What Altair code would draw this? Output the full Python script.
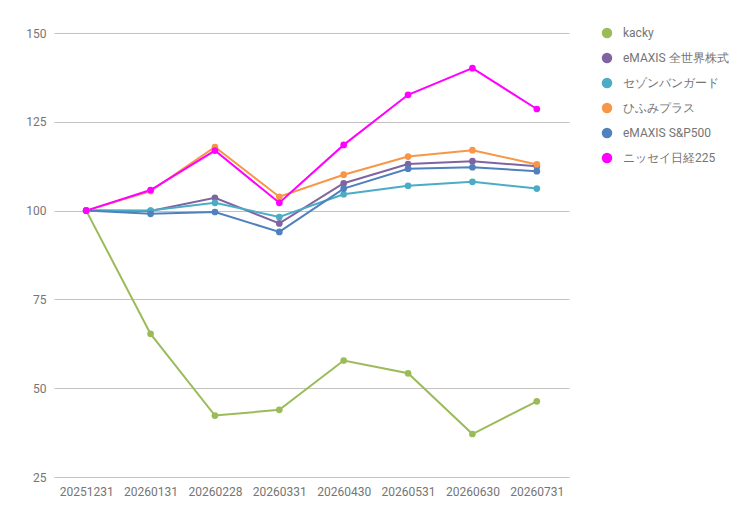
import altair as alt
import pandas as pd

dates = ["20251231", "20260131", "20260228", "20260331", "20260430", "20260531", "20260630", "20260731"]
series_names = ["kacky", "eMAXIS 全世界株式", "セゾンバンガード", "ひふみプラス", "eMAXIS S&P500", "ニッセイ日経225"]
colors = ["#9BBB59", "#8064A2", "#4BACC6", "#F79646", "#4F81BD", "#FF00FF"]

kacky = [100, 65.3, 42.3, 43.9, 57.8, 54.2, 37.1, 46.3]
emaxis_all = [100, 99.9, 103.6, 96.4, 107.7, 113.1, 113.9, 112.5]
sezon = [100, 100.0, 102.2, 98.2, 104.6, 107.0, 108.1, 106.2]
hifumi = [100, 105.5, 117.9, 103.9, 110.1, 115.2, 117.0, 113.0]
emaxis_sp = [100, 99.1, 99.6, 94.0, 106.2, 111.8, 112.2, 111.1]
nissay = [100, 105.8, 116.9, 102.2, 118.5, 132.6, 140.1, 128.6]

all_values = [kacky, emaxis_all, sezon, hifumi, emaxis_sp, nissay]
rows = []
for name, vals in zip(series_names, all_values):
    for d, v in zip(dates, vals):
        rows.append({"date": d, "series": name, "value": v})
df = pd.DataFrame(rows)

font = "Roboto"
text_color = "#757575"

x = alt.X("date:O", sort=dates, scale=alt.Scale(type="point", padding=0.5),
          axis=alt.Axis(title=None, labelAngle=0, domain=False, ticks=False, grid=False,
                        labelPadding=9, labelFontSize=12, labelColor=text_color, labelFont=font))
y = alt.Y("value:Q", scale=alt.Scale(domain=[25, 150], nice=False, zero=False),
          axis=alt.Axis(title=None, values=[25, 50, 75, 100, 125, 150], domain=False, ticks=False,
                        grid=True, gridColor="#c2c2c2", labelPadding=8, labelFontSize=12,
                        labelColor=text_color, labelFont=font))
color = alt.Color("series:N", sort=series_names,
                  scale=alt.Scale(domain=series_names, range=colors),
                  legend=alt.Legend(title=None, orient="none", legendX=547, legendY=-6,
                                    symbolType="circle", symbolSize=110, symbolStrokeWidth=0,
                                    labelFontSize=12, labelColor=text_color, labelFont=font,
                                    rowPadding=13, labelOffset=10))

base = alt.Chart(df)
lines = base.mark_line(strokeWidth=2).encode(x=x, y=y, color=color, order=alt.Order("date:O"))
points = base.mark_circle(size=45, opacity=1).encode(x=x, y=y, color=color)

chart = alt.layer(lines, points).properties(
    width=515, height=444,
    background="white",
    autosize=alt.AutoSizeParams(type="none"),
    padding={"left": 46, "top": 25, "right": 175, "bottom": 40},
).configure_view(stroke=None)

chart.save("out.html", embed_options={"renderer": "svg", "actions": False})
